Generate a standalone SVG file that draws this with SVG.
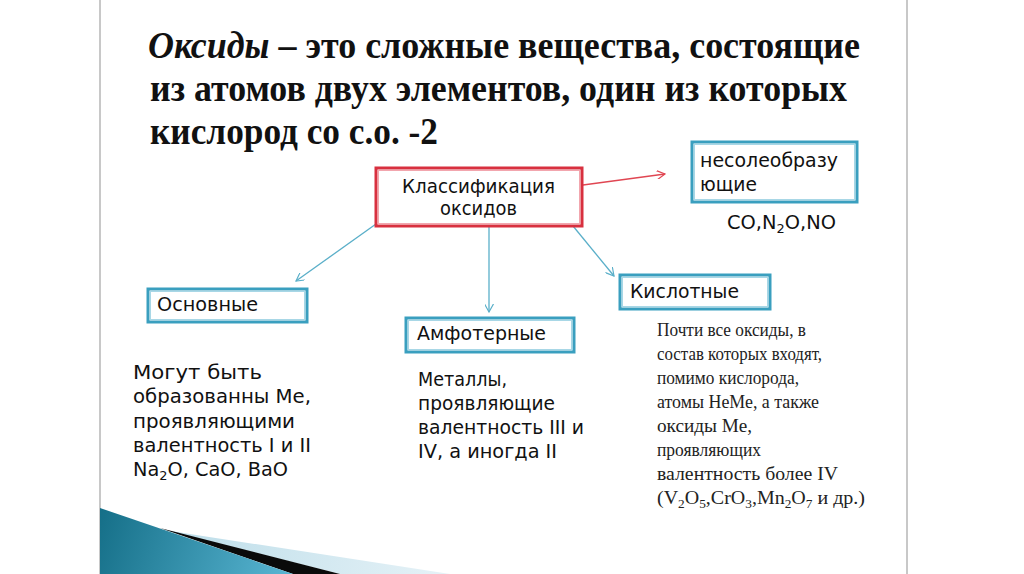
<svg xmlns="http://www.w3.org/2000/svg" width="1024" height="574" viewBox="0 0 1024 574">
<style>
.title{font-family:"Liberation Serif","Times New Roman",serif;font-weight:bold;font-size:38px;fill:#111}
.sans{font-family:"DejaVu Sans","Open Sans",sans-serif;font-size:19.5px;fill:#111}
.serif{font-family:"Liberation Serif","Times New Roman",serif;font-size:19.5px;fill:#222}
.tbox{fill:#fff;stroke:#3a9fbf;stroke-width:3}
.tin{fill:none;stroke:#a8d7e6;stroke-width:1}
.rbox{fill:#fff;stroke:#d8303f;stroke-width:3}
.rin{fill:none;stroke:#f2a6ae;stroke-width:1}
.conn{fill:none;stroke:#5aafc9;stroke-width:1.3}
.red{fill:none;stroke:#e04652;stroke-width:1.3}
</style>
<defs>
<marker id="ab" viewBox="0 0 10 10" refX="9" refY="5" markerWidth="9" markerHeight="9" orient="auto" markerUnits="userSpaceOnUse">
<path d="M0,0 L9,5 L0,10" fill="none" stroke="#5aafc9" stroke-width="1.3"/>
</marker>
<marker id="ar" viewBox="0 0 10 10" refX="9" refY="5" markerWidth="9" markerHeight="9" orient="auto" markerUnits="userSpaceOnUse">
<path d="M0,0 L9,5 L0,10" fill="none" stroke="#e04652" stroke-width="1.3"/>
</marker>
<linearGradient id="teal" x1="100" y1="510" x2="300" y2="574" gradientUnits="userSpaceOnUse">
<stop offset="0" stop-color="#156f88"/>
<stop offset="1" stop-color="#5cb9d6"/>
</linearGradient>
<linearGradient id="lb" x1="164" y1="530" x2="450" y2="574" gradientUnits="userSpaceOnUse">
<stop offset="0" stop-color="#bcdde9"/>
<stop offset="1" stop-color="#e6f2f7"/>
</linearGradient>
</defs>
<rect width="1024" height="574" fill="#fff"/>
<line x1="100" y1="0" x2="100" y2="574" stroke="#c8c8c8" stroke-width="2"/>
<line x1="907" y1="0" x2="907" y2="574" stroke="#c8c8c8" stroke-width="2"/>

<g id="decor">
<polygon points="164,530 450,574 340,574" fill="url(#lb)"/>
<polygon points="160,528 340,574 293,574" fill="#0a0a0a"/>
<polygon points="100,508 293,574 100,574" fill="url(#teal)"/>
</g>

<g id="title">
<text class="title" x="148" y="58" textLength="712" lengthAdjust="spacingAndGlyphs"><tspan font-style="italic">Оксиды</tspan> – это сложные вещества, состоящие</text>
<text class="title" x="150" y="101" textLength="697" lengthAdjust="spacingAndGlyphs">из атомов двух элементов, один из которых</text>
<text class="title" x="150" y="144" textLength="288" lengthAdjust="spacingAndGlyphs">кислород со с.о. -2</text>
</g>

<g id="connectors">
<line class="red" x1="583" y1="185" x2="665" y2="174" marker-end="url(#ar)"/>
<line class="conn" x1="383" y1="219" x2="296" y2="281" marker-end="url(#ab)"/>
<line class="conn" x1="489" y1="227" x2="489" y2="312" marker-end="url(#ab)"/>
<line class="conn" x1="573" y1="226" x2="614" y2="276" marker-end="url(#ab)"/>
</g>

<g id="classification">
<rect class="rbox" x="376" y="168" width="206" height="58"/>
<rect class="rin" x="378.5" y="170.5" width="201" height="53"/>
<text class="sans" x="402" y="193" textLength="153" lengthAdjust="spacingAndGlyphs">Классификация</text>
<text class="sans" x="440" y="215" textLength="77" lengthAdjust="spacingAndGlyphs">оксидов</text>
</g>

<g id="nonsalt">
<rect class="tbox" x="692" y="142" width="165" height="60"/>
<rect class="tin" x="694.5" y="144.5" width="160" height="55"/>
<text class="sans" x="700" y="167" textLength="138" lengthAdjust="spacingAndGlyphs">несолеобразу</text>
<text class="sans" x="700" y="191" textLength="57" lengthAdjust="spacingAndGlyphs">ющие</text>
<text class="sans" x="727" y="229" textLength="109" lengthAdjust="spacingAndGlyphs">CO,N<tspan font-size="13" dy="4">2</tspan><tspan dy="-4">O,NO</tspan></text>
</g>

<g id="basic">
<rect class="tbox" x="148" y="289" width="159" height="33"/>
<rect class="tin" x="150.5" y="291.5" width="154" height="28"/>
<text class="sans" x="157" y="311" textLength="101" lengthAdjust="spacingAndGlyphs">Основные</text>
<text class="sans" x="133" y="379" textLength="129" lengthAdjust="spacingAndGlyphs">Могут быть</text>
<text class="sans" x="133" y="403" textLength="178" lengthAdjust="spacingAndGlyphs">образованны Ме,</text>
<text class="sans" x="133" y="428" textLength="162" lengthAdjust="spacingAndGlyphs">проявляющими</text>
<text class="sans" x="133" y="452" textLength="178" lengthAdjust="spacingAndGlyphs">валентность I и II</text>
<text class="sans" x="133" y="476" textLength="155" lengthAdjust="spacingAndGlyphs">Na<tspan font-size="13" dy="4">2</tspan><tspan dy="-4">O, CaO, BaO</tspan></text>
</g>

<g id="amphoteric">
<rect class="tbox" x="406" y="318" width="168" height="34"/>
<rect class="tin" x="408.5" y="320.5" width="163" height="29"/>
<text class="sans" x="417" y="340" textLength="129" lengthAdjust="spacingAndGlyphs">Амфотерные</text>
<text class="sans" x="418" y="386" textLength="89" lengthAdjust="spacingAndGlyphs">Металлы,</text>
<text class="sans" x="418" y="410" textLength="137" lengthAdjust="spacingAndGlyphs">проявляющие</text>
<text class="sans" x="418" y="434" textLength="166" lengthAdjust="spacingAndGlyphs">валентность III и</text>
<text class="sans" x="418" y="458" textLength="139" lengthAdjust="spacingAndGlyphs">IV, а иногда II</text>
</g>

<g id="acidic">
<rect class="tbox" x="620" y="275" width="150" height="34"/>
<rect class="tin" x="622.5" y="277.5" width="145" height="29"/>
<text class="sans" x="630" y="298" textLength="109" lengthAdjust="spacingAndGlyphs">Кислотные</text>
<text class="serif" x="657" y="336" textLength="149" lengthAdjust="spacingAndGlyphs">Почти все оксиды, в</text>
<text class="serif" x="657" y="360" textLength="165" lengthAdjust="spacingAndGlyphs">состав которых входят,</text>
<text class="serif" x="657" y="384" textLength="142" lengthAdjust="spacingAndGlyphs">помимо кислорода,</text>
<text class="serif" x="657" y="408" textLength="162" lengthAdjust="spacingAndGlyphs">атомы НеМе, а также</text>
<text class="serif" x="657" y="432" textLength="95" lengthAdjust="spacingAndGlyphs">оксиды Ме,</text>
<text class="serif" x="657" y="456" textLength="104" lengthAdjust="spacingAndGlyphs">проявляющих</text>
<text class="serif" x="657" y="480" textLength="181" lengthAdjust="spacingAndGlyphs">валентность более IV</text>
<text class="serif" x="657" y="504" textLength="208" lengthAdjust="spacingAndGlyphs">(V<tspan font-size="13" dy="4">2</tspan><tspan dy="-4">O</tspan><tspan font-size="13" dy="4">5</tspan><tspan dy="-4">,CrO</tspan><tspan font-size="13" dy="4">3</tspan><tspan dy="-4">,Mn</tspan><tspan font-size="13" dy="4">2</tspan><tspan dy="-4">O</tspan><tspan font-size="13" dy="4">7</tspan><tspan dy="-4"> и др.)</tspan></text>
</g>
</svg>
